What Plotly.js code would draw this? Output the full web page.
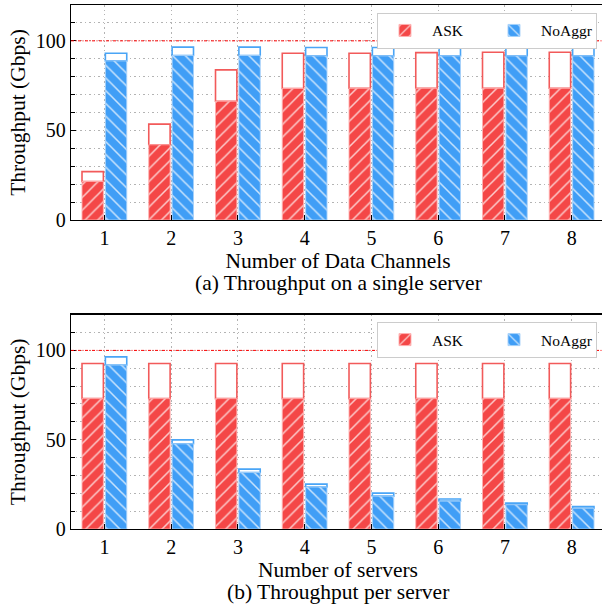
<!DOCTYPE html>
<html>
<head>
<meta charset="utf-8">
<script src="https://cdn.plot.ly/plotly-3.0.1.min.js"></script>
<style>
html,body{margin:0;padding:0;overflow:hidden;background:#fff;}
#chart{width:606px;height:605px;}
</style>
</head>
<body>
<div id="chart"></div>
<script>
// ---- data ----
const channels = [1, 2, 3, 4, 5, 6, 7, 8];
const servers = [1, 2, 3, 4, 5, 6, 7, 8];
const tickLabels = ['1', '2', '3', '4', '5', '6', '7', '8'];

// (a) throughput on a single server vs number of data channels
const askFillA = [21.5, 42, 66.3, 73.4, 73.5, 73.5, 73.5, 73.5];
const askTotalA = [27, 53.5, 83.8, 93.1, 93.1, 93.4, 93.6, 93.6];
const noaggrFillA = [88.8, 91.8, 91.8, 91.6, 91.6, 91.6, 91.6, 91.6];
const noaggrTotalA = [93.1, 96.5, 96.5, 96.3, 96.3, 96.3, 96.3, 96.3];

// (b) throughput per server vs number of servers
const askFillB = [73, 73, 73, 73, 73, 73, 73, 73];
const askTotalB = [92.7, 92.7, 92.7, 92.7, 92.7, 92.7, 92.7, 92.7];
const noaggrFillB = [91.8, 47.7, 31.6, 23.5, 18.4, 15.6, 13.6, 11.6];
const noaggrTotalB = [96.4, 49.9, 33.5, 25.1, 20.1, 16.8, 14.5, 12.6];

const lineRate = 100;

// ---- styles ----
const RED = '#f44747';
const RED_EDGE = '#f25a5a';
const BLUE = '#409ef6';
const BLUE_EDGE = '#4aa5f6';
const FONT = 'Liberation Serif, Times New Roman, serif';
const W = 0.32, OFF_ASK = -0.335, OFF_NA = 0.015;
const DOT = '1.5px,3px';

function hollow(x, fill, total, off, edge, xa, ya) {
  return {
    type: 'bar', x: x, y: total.map((t, i) => t - fill[i]), base: fill,
    offset: off, width: W, xaxis: xa, yaxis: ya, showlegend: false,
    marker: {color: 'white', line: {color: edge, width: 1.6}},
    hoverinfo: 'skip'
  };
}
function filled(x, fill, name, off, color, edge, shape, xa, ya, legend, show) {
  return {
    type: 'bar', x: x, y: fill, name: name, offset: off, width: W,
    xaxis: xa, yaxis: ya, legend: legend, showlegend: show,
    marker: {
      color: color, line: {color: edge, width: 1},
      pattern: {shape: shape, fillmode: 'replace', bgcolor: color, fgcolor: 'rgba(255,255,255,0.72)', size: 9, solidity: 0.17}
    }
  };
}

const traces = [
  hollow(channels, askFillA, askTotalA, OFF_ASK, RED_EDGE, 'x', 'y'),
  hollow(channels, noaggrFillA, noaggrTotalA, OFF_NA, BLUE_EDGE, 'x', 'y'),
  filled(channels, askFillA, 'ASK', OFF_ASK, RED, 'rgba(255,175,175,0.9)', '/', 'x', 'y', 'legend', true),
  filled(channels, noaggrFillA, 'NoAggr', OFF_NA, BLUE, 'rgba(165,208,250,0.9)', '\\', 'x', 'y', 'legend', true),
  hollow(servers, askFillB, askTotalB, OFF_ASK, RED_EDGE, 'x2', 'y2'),
  hollow(servers, noaggrFillB, noaggrTotalB, OFF_NA, BLUE_EDGE, 'x2', 'y2'),
  filled(servers, askFillB, 'ASK', OFF_ASK, RED, 'rgba(255,175,175,0.9)', '/', 'x2', 'y2', 'legend2', true),
  filled(servers, noaggrFillB, 'NoAggr', OFF_NA, BLUE, 'rgba(165,208,250,0.9)', '\\', 'x2', 'y2', 'legend2', true)
];

const gridStyle = {showgrid: true, gridcolor: '#b3b3b3', griddash: DOT, gridwidth: 1};
function xax(anchor, title) {
  return Object.assign({
    anchor: anchor, range: [0.5, 8.5], tickmode: 'array', tickvals: channels, ticktext: tickLabels,
    ticks: 'inside', ticklen: 5, tickcolor: 'black', showline: true, linecolor: 'black', linewidth: 1.2,
    mirror: true, zeroline: false, tickfont: {family: FONT, size: 20, color: 'black'},
    title: {text: title, font: {family: FONT, size: 21.5, color: 'black'}, standoff: 1}
  }, gridStyle);
}
function yax(anchor, domain) {
  return Object.assign({
    anchor: anchor, domain: domain, range: [0, 120], tick0: 0, dtick: 50,
    ticks: 'inside', ticklen: 5, tickcolor: 'black', showline: true, linecolor: 'black', linewidth: 1.2,
    mirror: true, zeroline: false, tickfont: {family: FONT, size: 20, color: 'black'},
    minor: {dtick: 10, tick0: 0, ticks: 'inside', ticklen: 4, tickcolor: 'black', showgrid: true, gridcolor: '#b3b3b3', griddash: DOT, gridwidth: 1},
    title: {text: 'Throughput (Gbps)', font: {family: FONT, size: 21.5, color: 'black'}, standoff: 4}
  }, gridStyle);
}

const legendStyle = {
  orientation: 'h', xanchor: 'right', x: 0.985, yanchor: 'top',
  bgcolor: 'white', bordercolor: '#cccccc', borderwidth: 1,
  font: {family: FONT, size: 15.5, color: 'black'}, itemwidth: 44,
  entrywidth: 50, entrywidthmode: 'pixels', itemclick: false
};

const layout = {
  width: 606, height: 605,
  margin: {l: 71, r: 1, t: 5, b: 76},
  paper_bgcolor: 'white', plot_bgcolor: 'white',
  barmode: 'overlay',
  font: {family: FONT, color: 'black'},
  xaxis: xax('y', 'Number of Data Channels'),
  yaxis: yax('x', [0.5897, 1]),
  xaxis2: xax('y2', 'Number of servers'),
  yaxis2: yax('x2', [0, 0.409]),
  legend: Object.assign({y: 0.985}, legendStyle),
  legend2: Object.assign({y: 0.395}, legendStyle),
  shapes: [
    {type: 'line', xref: 'x domain', yref: 'y', x0: 0, x1: 1, y0: lineRate, y1: lineRate, line: {color: 'red', width: 1, dash: '3px,1.5px,1px,1.5px'}},
    {type: 'line', xref: 'x2 domain', yref: 'y2', x0: 0, x1: 1, y0: lineRate, y1: lineRate, line: {color: 'red', width: 1, dash: '3px,1.5px,1px,1.5px'}}
  ],
  annotations: [
    {text: '(a) Throughput on a single server', xref: 'paper', yref: 'paper', x: 0.5, y: 0.4695, yanchor: 'middle', showarrow: false, font: {family: FONT, size: 21.5, color: 'black'}},
    {text: '(b) Throughput per server', xref: 'paper', yref: 'paper', x: 0.5, y: -0.12, yanchor: 'middle', showarrow: false, font: {family: FONT, size: 21.5, color: 'black'}}
  ]
};

Plotly.newPlot('chart', traces, layout, {staticPlot: true, displayModeBar: false});
</script>
</body>
</html>
